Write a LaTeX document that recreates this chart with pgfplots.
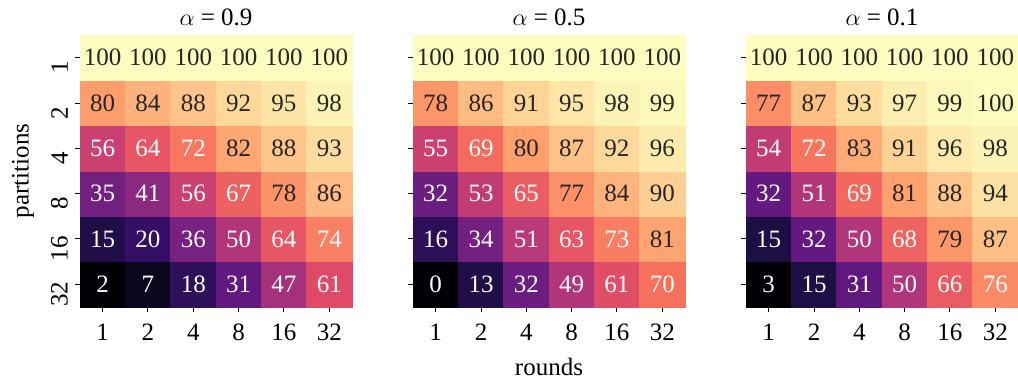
\documentclass[border=0pt]{standalone}
\usepackage{pgfplots}
\pgfplotsset{compat=1.18}
\usepackage{pgfplotstable}
\usepackage{fontspec}
\setmainfont{Liberation Serif}

\definecolor{txtdark}{gray}{0.15}
\newcommand\hmtext{\ifnum\pgfplotspointmeta<77 \color{white}\else\color{txtdark}\fi \pgfplotspointmeta}

% y = 0 -> partitions 32, ..., y = 5 -> partitions 1 ; x = 0 -> rounds 1, ..., x = 5 -> rounds 32
\pgfplotstableread{
x y z
0 0 2
1 0 7
2 0 18
3 0 31
4 0 47
5 0 61
0 1 15
1 1 20
2 1 36
3 1 50
4 1 64
5 1 74
0 2 35
1 2 41
2 2 56
3 2 67
4 2 78
5 2 86
0 3 56
1 3 64
2 3 72
3 3 82
4 3 88
5 3 93
0 4 80
1 4 84
2 4 88
3 4 92
4 4 95
5 4 98
0 5 100
1 5 100
2 5 100
3 5 100
4 5 100
5 5 100
}\dataA

\pgfplotstableread{
x y z
0 0 0
1 0 13
2 0 32
3 0 49
4 0 61
5 0 70
0 1 16
1 1 34
2 1 51
3 1 63
4 1 73
5 1 81
0 2 32
1 2 53
2 2 65
3 2 77
4 2 84
5 2 90
0 3 55
1 3 69
2 3 80
3 3 87
4 3 92
5 3 96
0 4 78
1 4 86
2 4 91
3 4 95
4 4 98
5 4 99
0 5 100
1 5 100
2 5 100
3 5 100
4 5 100
5 5 100
}\dataB

\pgfplotstableread{
x y z
0 0 3
1 0 15
2 0 31
3 0 50
4 0 66
5 0 76
0 1 15
1 1 32
2 1 50
3 1 68
4 1 79
5 1 87
0 2 32
1 2 51
2 2 69
3 2 81
4 2 88
5 2 94
0 3 54
1 3 72
2 3 83
3 3 91
4 3 96
5 3 98
0 4 77
1 4 87
2 4 93
3 4 97
4 4 99
5 4 100
0 5 100
1 5 100
2 5 100
3 5 100
4 5 100
5 5 100
}\dataC

\pgfplotsset{
  colormap={magma}{
    rgb=(0.001462,0.000466,0.013866)
    rgb=(0.078815,0.054184,0.211667)
    rgb=(0.232077,0.059889,0.437695)
    rgb=(0.390384,0.100379,0.501864)
    rgb=(0.550287,0.161158,0.505719)
    rgb=(0.716387,0.214982,0.475290)
    rgb=(0.868793,0.287728,0.409303)
    rgb=(0.967671,0.439703,0.359810)
    rgb=(0.994738,0.624350,0.427397)
    rgb=(0.995680,0.812706,0.572645)
    rgb=(0.987053,0.991438,0.749504)
  },
  hm/.style={
    width=136pt, height=136pt, scale only axis,
    enlargelimits=false,
    xmin=-0.5, xmax=5.5, ymin=-0.5, ymax=5.5,
    colormap name=magma, point meta max=100,
    xtick={0,...,5}, ytick={0,...,5},
    xticklabels={1,2,4,8,16,32},
    axis x line*=bottom, axis y line*=left,
    x axis line style={-, line width=0.6pt, black},
    y axis line style={draw=none},
    tick align=outside, major tick length=2.5pt,
    tick style={black, line width=0.5pt},
    ticklabel style={font=\fontsize{12.5}{15}\selectfont},
    xticklabel style={yshift=-2.5pt},
    yticklabel style={rotate=90, anchor=south, xshift=-5pt},
    title style={font=\fontsize{12.5}{15}\selectfont, at={(0.5,1.066)}, anchor=center, yshift=-6pt},
    label style={font=\fontsize{12.5}{15}\selectfont},
    clip=false,
  },
  hmtxt/.style={
    draw=none, mark=none,
    point meta=explicit symbolic,
    nodes near coords={\hmtext},
    nodes near coords align=center,
    every node near coord/.append style={anchor=center, inner sep=0pt,
      font=\fontsize{12.5}{15}\selectfont},
  },
}

\begin{document}
\begin{tikzpicture}
\begin{axis}[hm, at={(40pt,36pt)}, anchor=south west,
  title={$\alpha$ = 0.9},
  point meta min=2,
  yticklabels={32,16,8,4,2,1},
  ylabel={partitions},
  ylabel style={at={(axis description cs:-0.2096,0.5)}, anchor=center, rotate=0},
]
\addplot[matrix plot*, mesh/cols=6, point meta=explicit] table[x=x, y=y, meta=z] {\dataA};
\addplot[hmtxt] table[x=x, y=y, meta=z] {\dataA};
\end{axis}
\begin{axis}[hm, at={(206.5pt,36pt)}, anchor=south west,
  title={$\alpha$ = 0.5},
  point meta min=0,
  yticklabels={},
  xlabel={rounds},
  xlabel style={at={(axis description cs:0.5,-0.22)}, anchor=center},
]
\addplot[matrix plot*, mesh/cols=6, point meta=explicit] table[x=x, y=y, meta=z] {\dataB};
\addplot[hmtxt] table[x=x, y=y, meta=z] {\dataB};
\end{axis}
\begin{axis}[hm, at={(373pt,36pt)}, anchor=south west,
  title={$\alpha$ = 0.1},
  point meta min=3,
  yticklabels={},
]
\addplot[matrix plot*, mesh/cols=6, point meta=explicit] table[x=x, y=y, meta=z] {\dataC};
\addplot[hmtxt] table[x=x, y=y, meta=z] {\dataC};
\end{axis}
\pgfresetboundingbox
\path[use as bounding box] (0,0) rectangle (509pt,189.5pt);
\end{tikzpicture}
\end{document}
